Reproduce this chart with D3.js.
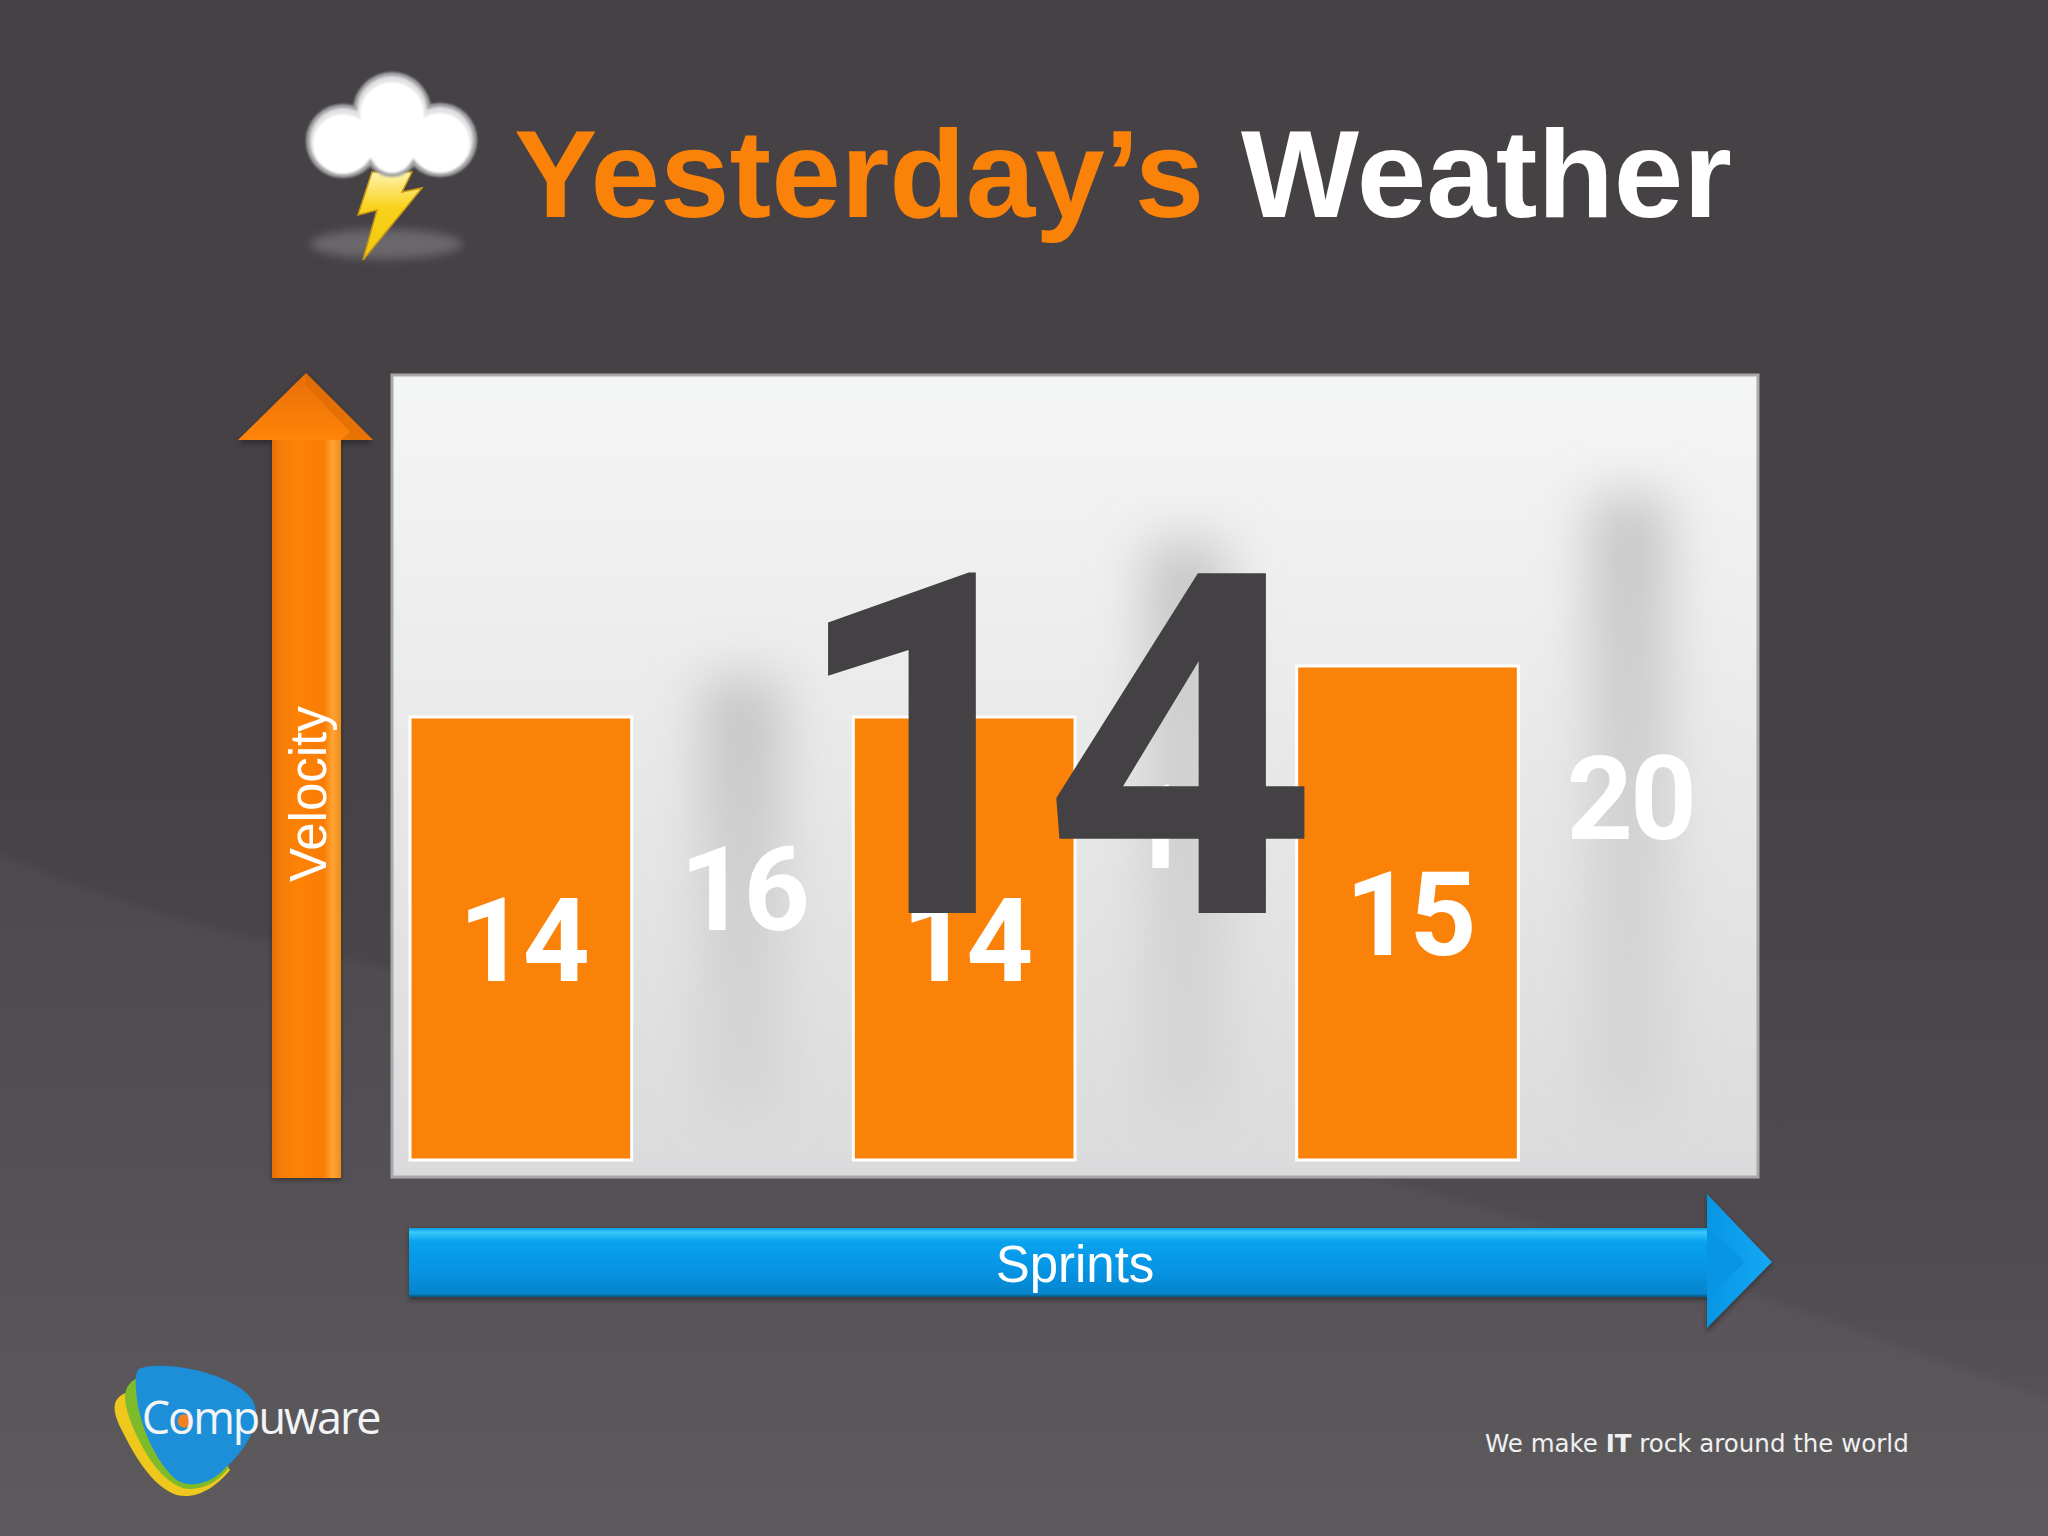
<!DOCTYPE html>
<html><head><meta charset="utf-8">
<script src="https://cdn.jsdelivr.net/npm/d3@7/dist/d3.min.js"></script>
<style>html,body{margin:0;padding:0;background:#454145;overflow:hidden}svg{display:block}text{font-family:"Liberation Sans",Arial,sans-serif}.num{font-family:Roboto,"Liberation Sans",sans-serif;font-weight:700}</style>
</head><body><svg id="c" width="2048" height="1536"></svg>
<script>
const sprints = ["S1","S2","S3","S4","S5","S6"];
const velocities = [14,16,14,19,15,20];
const counted = [true,false,true,false,true,false];
const forecast = 14;
const titleParts = ["Yesterday’s","Weather"];

const svg = d3.select("#c");
const defs = svg.append("defs");
function grad(id,x2,y2,stops){
  const g=defs.append("linearGradient").attr("id",id).attr("x1",0).attr("y1",0).attr("x2",x2).attr("y2",y2);
  stops.forEach(s=>{const t=g.append("stop").attr("offset",s[0]).attr("stop-color",s[1]); if(s[2]!==undefined)t.attr("stop-opacity",s[2]);});
}
function blur(id,d){defs.append("filter").attr("id",id).attr("x","-80%").attr("y","-60%").attr("width","260%").attr("height","220%").append("feGaussianBlur").attr("stdDeviation",d);}
grad("bg",0,1,[[0,"#454145"],[0.5,"#454145"],[0.8,"#4f4b50"],[1,"#59555a"]]);
grad("panel",0,1,[[0,"#f4f6f5"],[0.5,"#e8e8e8"],[1,"#dbdbdd"]]);
grad("ghost",0,1,[[0,"#b6b6b7",0.75],[0.5,"#b9b9ba",0.5],[1,"#bcbcbd",0.25]]);
grad("upA",1,0,[[0,"#e56c04"],[0.12,"#f57c08"],[0.4,"#ff8205"],[0.75,"#f87c06"],[0.88,"#ffa332"],[1,"#f08a1c"]]);
grad("upH",0,1,[[0,"#e86e08"],[1,"#ff8408"]]);
grad("rtA",0,1,[[0,"#0a9be0"],[0.06,"#38c8fa"],[0.2,"#08a2ee"],[0.6,"#0694e4"],[0.95,"#0685cc"],[1,"#07557f"]]);
grad("rtH",1,0,[[0,"#0896e4"],[1,"#14a8f4"]]);
grad("bolt",0,1,[[0,"#fff3b0"],[0.4,"#f8d21c"],[1,"#f3c80e"]]);
blur("b2",2);blur("b5",5);blur("b22",26);blur("b1",0.8);

// slide background
svg.append("rect").attr("width",2048).attr("height",1536).attr("fill","url(#bg)");
svg.append("path").attr("d","M-60,820 C200,980 700,1000 1200,1130 C1600,1230 1850,1330 2110,1420 L2110,1600 L-60,1600 Z").attr("fill","#fff").attr("opacity",0.03).attr("filter","url(#b5)");

// weather icon
const icon=svg.append("g");
icon.append("ellipse").attr("cx",386).attr("cy",244).attr("rx",76).attr("ry",15).attr("fill","#777478").attr("opacity",0.75).attr("filter","url(#b5)");
icon.append("polygon").attr("points","372,172 358,215 377,210 363,260 422,188 402,192 412,172").attr("fill","url(#bolt)").attr("stroke","#c99a10").attr("stroke-width",1.5);
const puffs=[[392,111,38],[343,141,36],[440,140,36],[392,150,26]];
const cloud=icon.append("g").attr("filter","url(#b1)");
cloud.selectAll("circle.o").data(puffs).join("circle").attr("class","o").attr("cx",d=>d[0]).attr("cy",d=>d[1]).attr("r",d=>d[2]+1).attr("fill","#a3a3a5");
cloud.selectAll("circle.m").data(puffs).join("circle").attr("class","m").attr("cx",d=>d[0]).attr("cy",d=>d[1]).attr("r",d=>d[2]-3).attr("fill","#e2e2e4");
cloud.selectAll("circle.i").data(puffs).join("circle").attr("class","i").attr("cx",d=>d[0]).attr("cy",d=>d[1]+3).attr("r",d=>d[2]-6).attr("fill","#fff");
cloud.append("circle").attr("cx",392).attr("cy",136).attr("r",31).attr("fill","#fff");

// title
const title=svg.append("text").attr("x",514).attr("y",217).attr("font-size",125).attr("font-weight","bold");
title.append("tspan").attr("fill","#fb8208").text(titleParts[0]);
title.append("tspan").attr("fill","#fff").attr("dx",2).text(" "+titleParts[1]);

// panel
svg.append("rect").attr("x",392).attr("y",375).attr("width",1366).attr("height",802).attr("fill","url(#panel)").attr("stroke","#a9a9a9").attr("stroke-width",3);

// scales
const x=d3.scaleBand().domain(sprints).range([410,1740]);
const y=d3.scaleLinear().domain([14,15]).range([717,666]);
const base=1160;
const ghostTop=d3.scaleLinear().domain([16,20]).range([679,496]);
const ghostMid=d3.scaleLinear().domain([16,19,20]).range([888,826,797]);
const data=sprints.map((s,i)=>({s,v:velocities[i],on:counted[i]}));
const plot=svg.append("g");
const cx=d=>x(d.s)+x.bandwidth()/2;

// faded (uncounted) sprints
const off=data.filter(d=>!d.on);
plot.selectAll("rect.ghost").data(off).join("rect").attr("class","ghost")
  .attr("x",d=>cx(d)-40).attr("width",80)
  .attr("y",d=>ghostTop(d.v)).attr("height",d=>1115-ghostTop(d.v))
  .attr("fill","url(#ghost)").attr("filter","url(#b22)");
plot.selectAll("text.ghostL").data(off).join("text").attr("class","ghostL num")
  .attr("x",d=>cx(d)+1).attr("y",d=>ghostMid(d.v)+42)
  .attr("text-anchor","middle").attr("font-size",116).attr("letter-spacing",-3).attr("fill","#fff").text(d=>d.v);

// counted sprints
const on=data.filter(d=>d.on);
plot.selectAll("rect.bar").data(on).join("rect").attr("class","bar")
  .attr("x",d=>x(d.s)).attr("width",x.bandwidth())
  .attr("y",d=>y(d.v)).attr("height",d=>base-y(d.v))
  .attr("fill","#fb8208").attr("stroke","#fff").attr("stroke-width",3);
plot.selectAll("text.barL").data(on).join("text").attr("class","barL num")
  .attr("x",d=>cx(d)+2).attr("y",d=>(y(d.v)+base)/2+42)
  .attr("text-anchor","middle").attr("font-size",117).attr("letter-spacing",-3).attr("fill","#fff").text(d=>d.v);

// forecast
svg.append("text").attr("class","num").attr("x",1043).attr("y",913).attr("text-anchor","middle").attr("font-size",478).attr("letter-spacing",-20).attr("fill","#444144").text(forecast);

// velocity arrow
svg.append("path").attr("d","M272,1180 L272,444 L238,444 L306,373 L373,444 L341,444 L341,1180 Z").attr("fill","#1f1c1e").attr("opacity",0.5).attr("filter","url(#b2)");
svg.append("rect").attr("x",272).attr("y",430).attr("width",69).attr("height",748).attr("fill","url(#upA)");
svg.append("polygon").attr("points","306,373 373,440 238,440").attr("fill","url(#upH)");
svg.append("polygon").attr("points","341,440 373,440 306,373 306,385 350,432").attr("fill","#d96604").attr("opacity",0.55);
svg.append("text").attr("transform","translate(326,882) rotate(-90)").attr("font-size",51).attr("fill","#fff").text("Velocity");

// sprint arrow
svg.append("path").attr("d","M409,1300 L1707,1300 L1707,1332 L1772,1264 L1707,1196 L1707,1230 L409,1230 Z").attr("fill","#1f1c1e").attr("opacity",0.5).attr("filter","url(#b2)");
svg.append("rect").attr("x",409).attr("y",1228).attr("width",1300).attr("height",69).attr("fill","url(#rtA)");
svg.append("polygon").attr("points","1707,1194 1772,1262 1707,1328").attr("fill","url(#rtH)");
svg.append("polygon").attr("points","1707,1228 1707,1297 1745,1262 1722,1240").attr("fill","#0896e4");
svg.append("text").attr("x",1075).attr("y",1282).attr("text-anchor","middle").attr("font-size",51).attr("fill","#fff").text("Sprints");

// logo
const logo=svg.append("g").attr("transform","translate(90,1340) scale(0.3333)");
const mark=logo.append("g").attr("filter","url(#b2)");
mark.append("path").attr("d","M105,160 C60,180 70,220 95,270 C140,360 190,440 260,465 C320,480 380,440 420,390 L260,120 Z").attr("fill","#eec81a");
mark.append("path").attr("d","M140,115 C95,140 100,180 120,240 C160,340 210,420 280,445 C330,455 380,430 415,385 L300,150 Z").attr("fill","#7dbb2a");
mark.append("path").attr("d","M150,85 C230,60 420,100 480,170 C530,230 470,330 400,390 C350,440 290,440 260,420 C200,370 150,260 140,170 C135,120 135,95 150,85 Z").attr("fill","#1a8fd8");
logo.append("circle").attr("cx",283).attr("cy",243).attr("r",20).attr("fill","#f08020");
logo.append("text").attr("x",155).attr("y",282).attr("font-size",135).attr("fill","#f2f4f6").attr("style","font-family:'Open Sans',sans-serif").attr("textLength",720).text("Compuware");

// tagline
const tag=svg.append("text").attr("x",1485).attr("y",1452).attr("font-size",24.5).attr("fill","#f0f0f0").attr("style","font-family:'DejaVu Sans',sans-serif");
tag.append("tspan").text("We make ");
tag.append("tspan").attr("font-weight","bold").text("IT");
tag.append("tspan").text(" rock around the world");
</script></body></html>
